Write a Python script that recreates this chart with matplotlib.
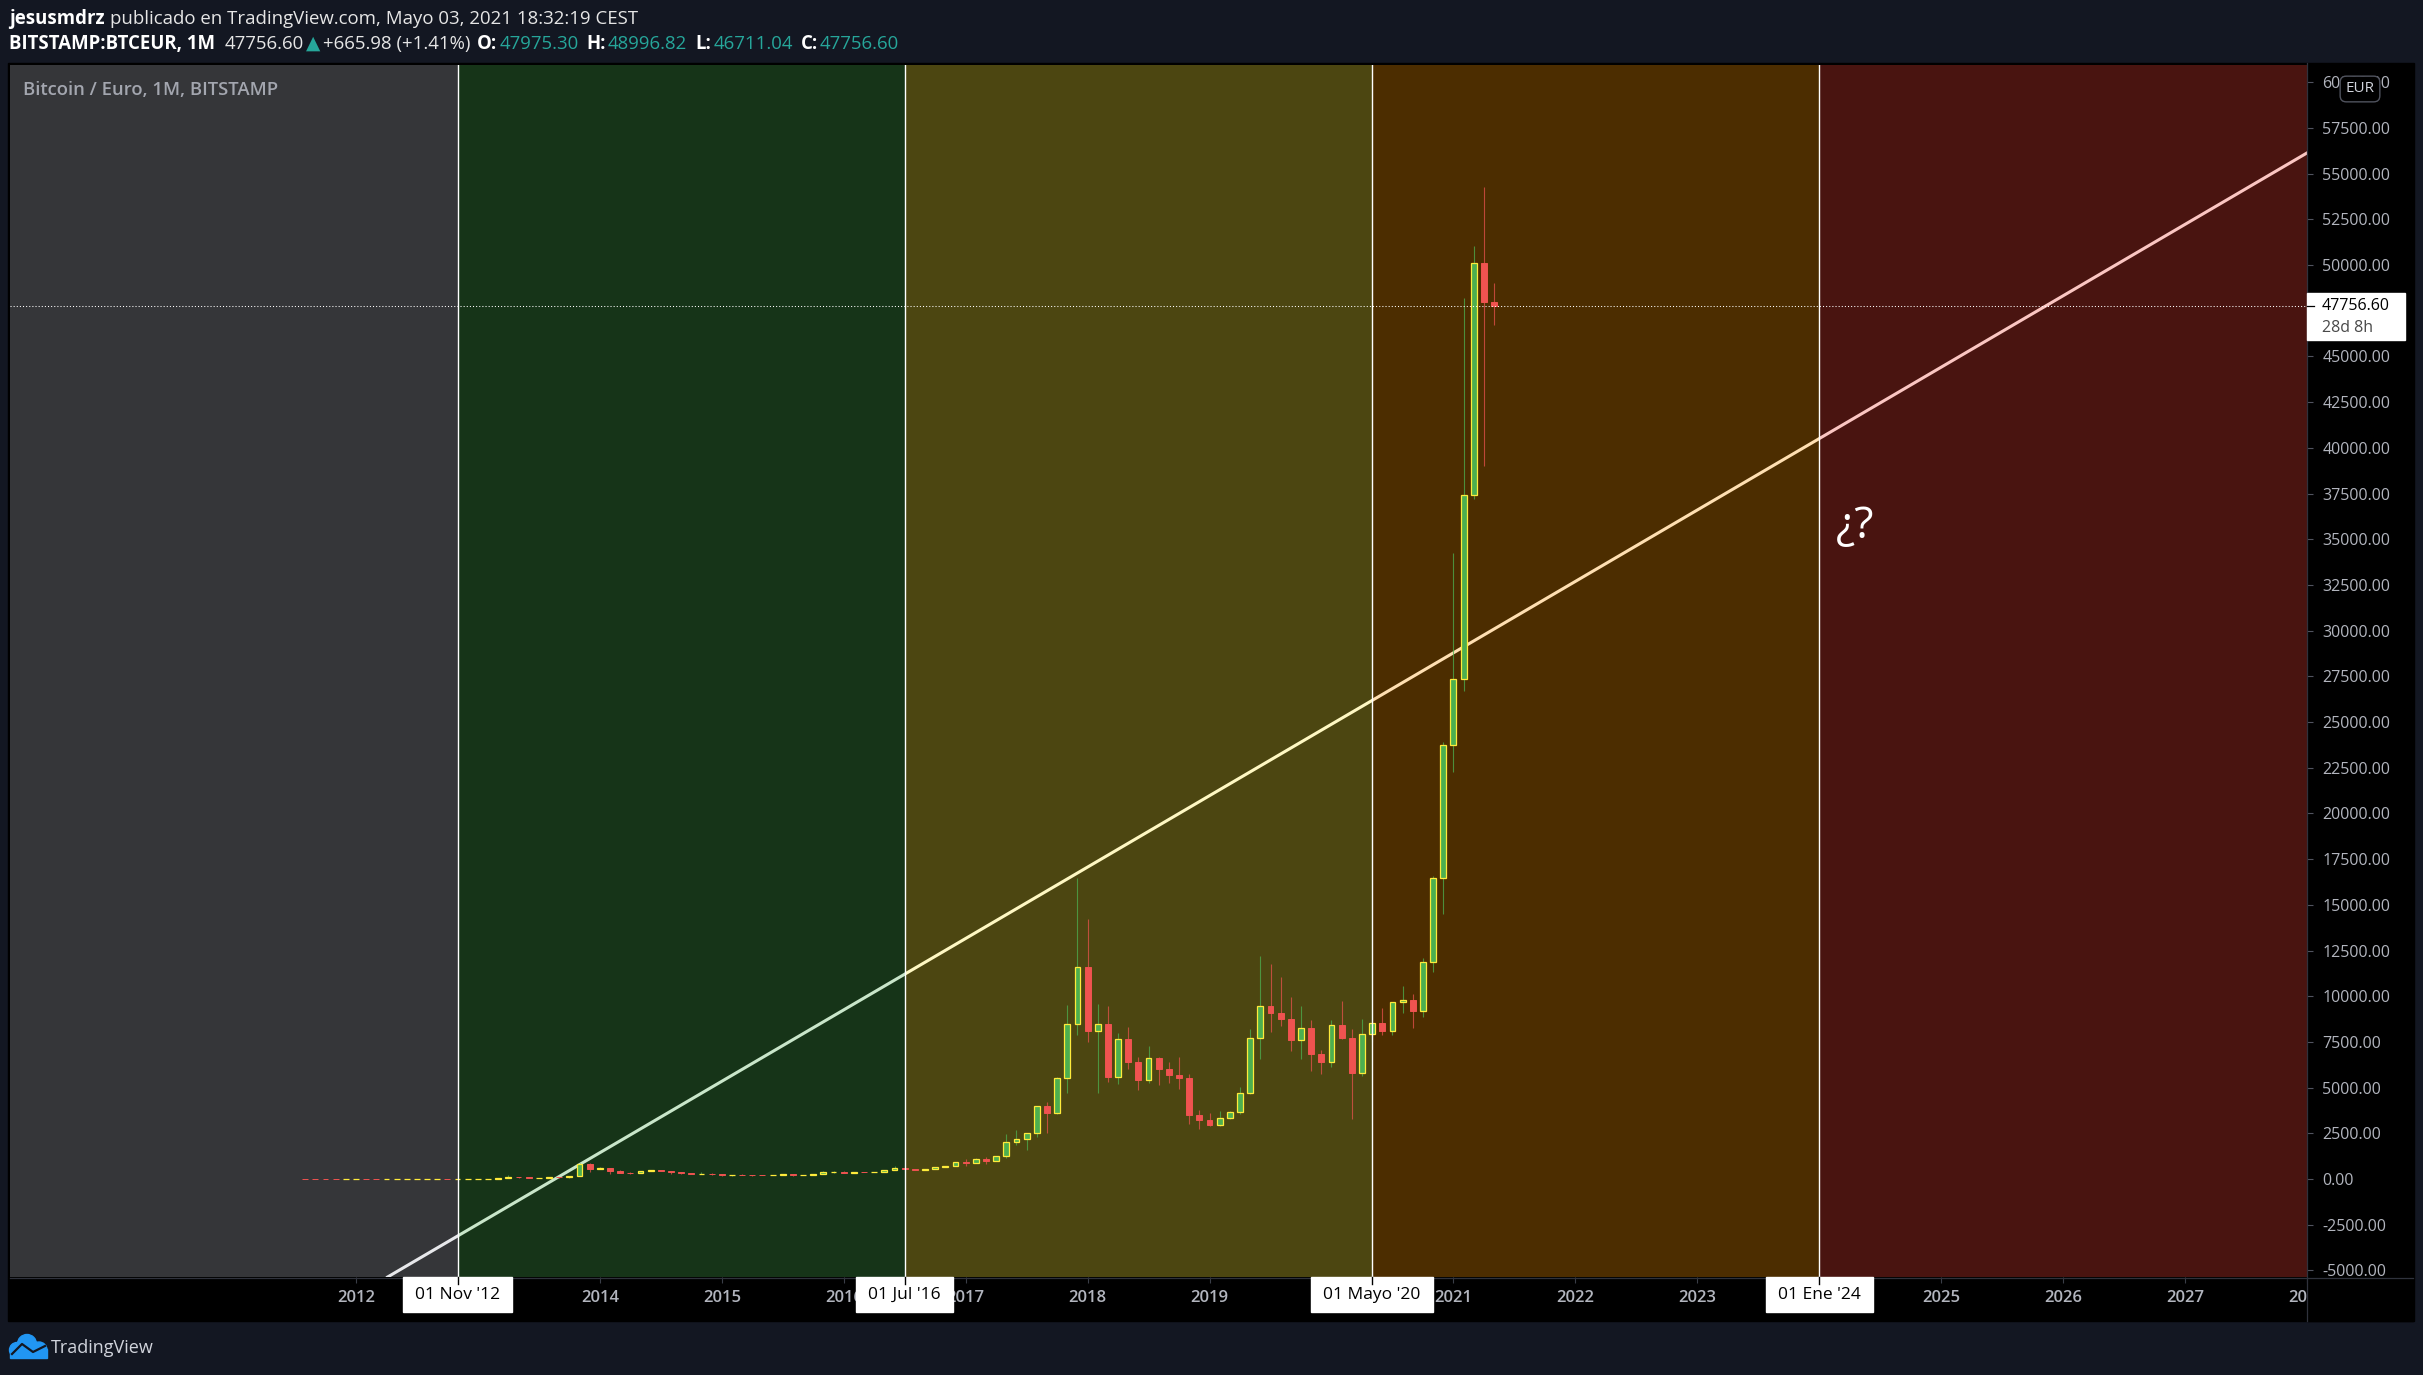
import numpy as np
import pandas as pd
import matplotlib
matplotlib.use('Agg')
import matplotlib.pyplot as plt
from matplotlib.patches import Rectangle, Circle
from matplotlib.transforms import IdentityTransform

W, H = 2423, 1375
FONT = ['Open Sans', 'DejaVu Sans']
plt.rcParams['font.family'] = FONT

# ---------------- data (BTC/EUR monthly, Bitstamp) ----------------
months = pd.period_range('2011-08', '2021-05', freq='M')

opens = [9.5, 6.0, 3.8, 2.3, 2.2,                                                   # 2011
         3.6, 4.2, 3.7, 3.65, 3.8, 4.1, 5.4, 7.5, 8.0, 9.6, 8.6, 9.6,                # 2012
         10.3, 14.6, 24.3, 72, 106, 99, 72, 80, 98, 97, 150, 830,                    # 2013
         550, 600, 420, 335, 325, 460, 470, 435, 365, 305, 270, 300,                 # 2014
         262, 192, 227, 226, 211, 209, 237, 258, 205, 211, 285, 356,                 # 2015
         395, 341, 401, 365, 393, 478, 606, 557, 512, 544, 636, 700,                 # 2016
         917, 900, 1120, 1010, 1240, 2048, 2176, 2504, 3981, 3635, 5512, 8466,       # 2017
         11583, 8100, 8466, 5604, 7643, 6424, 5440, 6606, 6040, 5713, 5530, 3525,    # 2018
         3250, 2960, 3325, 3653, 4690, 7700, 9450, 9100, 8775, 7627, 8247, 6860,     # 2019
         6424, 8410, 7735, 5820, 7917, 8520, 8120, 9670, 9780, 9200, 11856, 16450,   # 2020
         23725, 27336, 37418, 50104, 47975.30]                                       # 2021
highs = [10.5, 6.2, 3.9, 2.4, 3.7,
         5.0, 4.6, 4.0, 4.0, 4.1, 5.4, 7.5, 12.0, 10.0, 10.0, 9.8, 10.4,
         15, 24.5, 72, 205, 106, 100, 82, 98, 105, 150, 900, 860,
         660, 610, 510, 360, 465, 490, 480, 440, 380, 330, 360, 310,
         275, 235, 270, 232, 220, 245, 290, 262, 220, 300, 445, 425,
         420, 405, 400, 400, 480, 690, 615, 560, 548, 665, 705, 925,
         1070, 1125, 1215, 1250, 2467, 2690, 2540, 4000, 4200, 5560, 9523, 16470,
         14225, 9576, 9468, 7990, 8320, 6680, 7280, 6700, 6400, 6680, 5731, 3780,
         3600, 3726, 3726, 5020, 8210, 12200, 11764, 11055, 9960, 9468, 8700, 7040,
         8700, 9740, 8210, 8760, 9300, 9360, 9700, 10560, 10120, 12111, 16578, 23880,
         34245, 48194, 51040, 54283, 48996.82]
lows = [5.5, 3.4, 1.6, 1.5, 2.1,
        3.6, 3.3, 3.6, 3.6, 3.8, 4.1, 5.4, 6.0, 7.8, 8.4, 8.3, 9.6,
        10.1, 14.5, 24, 40, 62, 65, 50, 77, 80, 78, 148, 380,
        530, 300, 320, 250, 320, 420, 425, 300, 290, 270, 265, 240,
        150, 190, 210, 190, 203, 205, 235, 175, 200, 210, 285, 320,
        330, 335, 360, 365, 393, 470, 530, 480, 512, 540, 636, 700,
        710, 880, 840, 1000, 1150, 1880, 1600, 2300, 2490, 3550, 4730, 7880,
        7500, 4730, 5330, 5220, 6040, 4890, 5240, 5166, 5240, 4945, 3030, 2760,
        2905, 2905, 3290, 3580, 4636, 6570, 8065, 8390, 7006, 6570, 5930, 5770,
        6150, 7680, 3307, 5660, 7500, 7900, 7900, 9070, 8280, 8885, 11346, 14520,
        22250, 26680, 37226, 38987, 46711.04]
closes = [6.0, 3.8, 2.3, 2.2, 3.6,
          4.2, 3.7, 3.65, 3.8, 4.1, 5.4, 7.5, 8.0, 9.6, 8.6, 9.6, 10.3,
          14.6, 24.3, 72, 106, 99, 72, 80, 98, 97, 150, 830, 550,
          600, 420, 335, 325, 460, 470, 435, 365, 305, 270, 300, 262,
          192, 227, 226, 211, 209, 237, 258, 205, 211, 285, 356, 395,
          341, 401, 365, 393, 478, 606, 557, 512, 544, 636, 700, 917,
          900, 1120, 1010, 1240, 2048, 2176, 2504, 3981, 3635, 5512, 8466, 11583,
          8100, 8466, 5604, 7643, 6424, 5440, 6606, 6040, 5713, 5530, 3525, 3250,
          2960, 3325, 3653, 4690, 7700, 9450, 9100, 8775, 7627, 8247, 6860, 6424,
          8410, 7735, 5820, 7917, 8520, 8120, 9670, 9780, 9200, 11856, 16450, 23725,
          27336, 37418, 50104, 47970, 47756.60]

zone_dates = ['2012-11', '2016-07', '2020-05', '2024-01']
zone_labels = ["01 Nov '12", "01 Jul '16", "01 Mayo '20", "01 Ene '24"]
zone_colors = ['#b2b5be', '#4caf50', '#ffeb3b', '#ff9800', '#f44336']

# trend line anchor points (date, price)
trend_pts = [('2012-11', -3120), ('2028-01', 56130)]

years = list(range(2012, 2029))
price_ticks = np.arange(-5000, 60001, 2500)

last = dict(o=47975.30, h=48996.82, l=46711.04, c=47756.60, chg=665.98, pct=1.41)


def to_x(p):
    p = pd.Period(p, freq='M')
    return p.year + (p.month - 1) / 12


def fx(x):
    return x / W


def fy(y):
    return 1 - y / H


# ---------------- figure ----------------
fig = plt.figure(figsize=(W / 100, H / 100), dpi=100, facecolor='#131722')
fig.patches.append(Rectangle((fx(8), fy(1321)), (2414 - 8) / W, (1321 - 63) / H,
                             transform=fig.transFigure, color='black', zorder=-1))

ax = fig.add_axes([fx(10), fy(1277), (2307 - 10) / W, (1277 - 65) / H])
ax.set_facecolor('black')
ax.set_xlim(2009.163, 2028.0)
ax.set_ylim(-5361, 60941)

# zones
edges = [to_x(d) for d in zone_dates]
bounds = [2009.0] + edges + [2029.0]
for i, col in enumerate(zone_colors):
    ax.axvspan(bounds[i], bounds[i + 1], color=col, alpha=0.3, lw=0, zorder=2)

# trend line (under the zones so it picks up their tint)
ax.axline((to_x(trend_pts[0][0]), trend_pts[0][1]), (to_x(trend_pts[1][0]), trend_pts[1][1]),
          color='white', lw=2.2, zorder=1)

# candles
x = np.array([p.year + (p.month - 1) / 12 for p in months])
o, h, l, c = map(np.array, (opens, highs, lows, closes))
up = c >= o
ax.vlines(x[up], l[up], h[up], color='#4caf50', lw=0.8, alpha=0.75, zorder=3)
ax.vlines(x[~up], l[~up], h[~up], color='#ef5350', lw=0.8, alpha=0.7, zorder=3)
ax.bar(x[up], (c - o)[up], bottom=o[up], width=0.048, color='#4caf50',
       edgecolor='#ffeb3b', linewidth=0.9, zorder=3.5)
ax.bar(x[~up], (o - c)[~up], bottom=c[~up], width=0.048, color='#ef5350',
       edgecolor='#ef5350', linewidth=0.7, zorder=3.5)

for e in edges:
    ax.axvline(e, color='white', lw=1.0, zorder=4)

ax.axhline(last['c'], color='white', lw=0.75, linestyle=(0, (1, 2)), zorder=4)

ax.text(to_x('2024-03') - 0.03, 35070, '¿?', color='white', fontsize=32, va='baseline',
        ha='left', zorder=6)

# axes styling
for s in ax.spines.values():
    s.set_visible(False)
ax.yaxis.tick_right()
ax.set_yticks(price_ticks)
ax.set_yticklabels([f'{v:.2f}' for v in price_ticks])
ax.tick_params(axis='y', labelcolor='#b2b5be', labelsize=11.5, length=4, width=0.8,
               color='#50535e', pad=7)
ax.set_xticks(years)
ax.set_xticklabels([str(y) for y in years])
ax.tick_params(axis='x', labelcolor='#b2b5be', labelsize=12, length=4.5, width=0.8,
               color='#3a3e48', pad=5)
for lbl in ax.get_xticklabels():
    lbl.set_fontweight('semibold')

renderer = fig.canvas.get_renderer()

# date boxes on the time axis
for e, lab in zip(edges, zone_labels):
    xpix = ax.transData.transform((e, 0))[0]
    t = fig.text(xpix / W, fy(1295), lab, ha='center', va='center', fontsize=12.5,
                 color='black', zorder=7)
    half = t.get_window_extent(renderer).width / 2 + 12
    fig.patches.append(Rectangle(((xpix - half) / W, fy(1312)), 2 * half / W, 35 / H,
                                 transform=fig.transFigure, color='white', zorder=6))
    fig.lines.append(plt.Line2D([xpix / W, xpix / W], [fy(1277), fy(1284)],
                                transform=fig.transFigure, color='black', lw=1, zorder=7))

# cover the right part of the time axis under the price scale
fig.patches.append(Rectangle((fx(2308), fy(1321)), (2413 - 2308) / W, (1321 - 1278) / H,
                             transform=fig.transFigure, color='black', zorder=3))
fig.lines.append(plt.Line2D([fx(2307), fx(2307)], [fy(63), fy(1321)], transform=fig.transFigure,
                            color='#2f323c', lw=0.9, zorder=4))
fig.lines.append(plt.Line2D([fx(10), fx(2413)], [fy(1277.5), fy(1277.5)], transform=fig.transFigure,
                            color='#2f323c', lw=0.9, zorder=4))

# last price label
ypix = ax.transData.transform((2020, last['c']))[1]
fig.patches.append(Rectangle((fx(2307), (ypix - 34) / H), (2405 - 2307) / W, 47 / H,
                             transform=fig.transFigure, color='white', zorder=5))
fig.lines.append(plt.Line2D([fx(2307), fx(2314)], [ypix / H, ypix / H], transform=fig.transFigure,
                            color='black', lw=0.9, zorder=6))
fig.text(fx(2322), ypix / H, f"{last['c']:.2f}", color='black', fontsize=11.5,
         va='center', ha='left', zorder=6)
fig.text(fx(2322), (ypix - 22) / H, '28d 8h', color='#4a4a4a', fontsize=11.5,
         va='center', ha='left', zorder=6)

fig.text(fx(2360), fy(89), 'EUR', color='#d1d4dc', fontsize=11, ha='center', va='center',
         zorder=6, bbox=dict(boxstyle='round,pad=0.35,rounding_size=0.4', fc='black',
                             ec='#50535e', lw=1))

fig.text(fx(23), fy(90), 'Bitcoin / Euro, 1M, BITSTAMP', color='#a3a6af', fontsize=13.3,
         fontweight='semibold', va='center', ha='left', zorder=6)


# header
def run(x0, y0, pieces, size=13.4):
    for s, col, wt, gap in pieces:
        t = fig.text(fx(x0), fy(y0), s, color=col, fontweight=wt, fontsize=size,
                     va='center', ha='left', family=FONT)
        x0 += t.get_window_extent(renderer).width + gap


white = '#ffffff'
teal = '#26a69a'
run(9, 19, [('jesusmdrz', white, 'bold', 5),
            ('publicado en TradingView.com, Mayo 03, 2021 18:32:19 CEST', '#e6e6e6', 'normal', 0)])
run(9, 44, [('BITSTAMP:BTCEUR, 1M', white, 'bold', 10),
            (f"{last['c']:.2f}", '#e6e6e6', 'normal', 2),
            ('▲', teal, 'normal', 2),
            (f"+{last['chg']:.2f} (+{last['pct']:.2f}%)", '#e6e6e6', 'normal', 7),
            ('O:', white, 'bold', 2), (f"{last['o']:.2f}", teal, 'normal', 8),
            ('H:', white, 'bold', 2), (f"{last['h']:.2f}", teal, 'normal', 8),
            ('L:', white, 'bold', 2), (f"{last['l']:.2f}", teal, 'normal', 8),
            ('C:', white, 'bold', 2), (f"{last['c']:.2f}", teal, 'normal', 0)])

# footer logo
idt = IdentityTransform()
for cx, cy, r in [(17, 1350, 7.5), (27, 1344, 9.5), (39, 1350, 8)]:
    fig.patches.append(Circle((cx, H - cy), r, transform=idt, color='#2196f3', zorder=5))
fig.patches.append(Rectangle((10, H - 1358), 37, 9, transform=idt, color='#2196f3', zorder=5))
fig.lines.append(plt.Line2D([12, 22, 33, 45], [H - 1354, H - 1344, H - 1352, H - 1346],
                            transform=idt, color='#131722', lw=1.6, zorder=6))
fig.text(fx(51), fy(1348), 'TradingView', color='#d1d4dc', fontsize=13, va='center',
         ha='left')

fig.savefig('out.png', dpi=100, facecolor=fig.get_facecolor())
